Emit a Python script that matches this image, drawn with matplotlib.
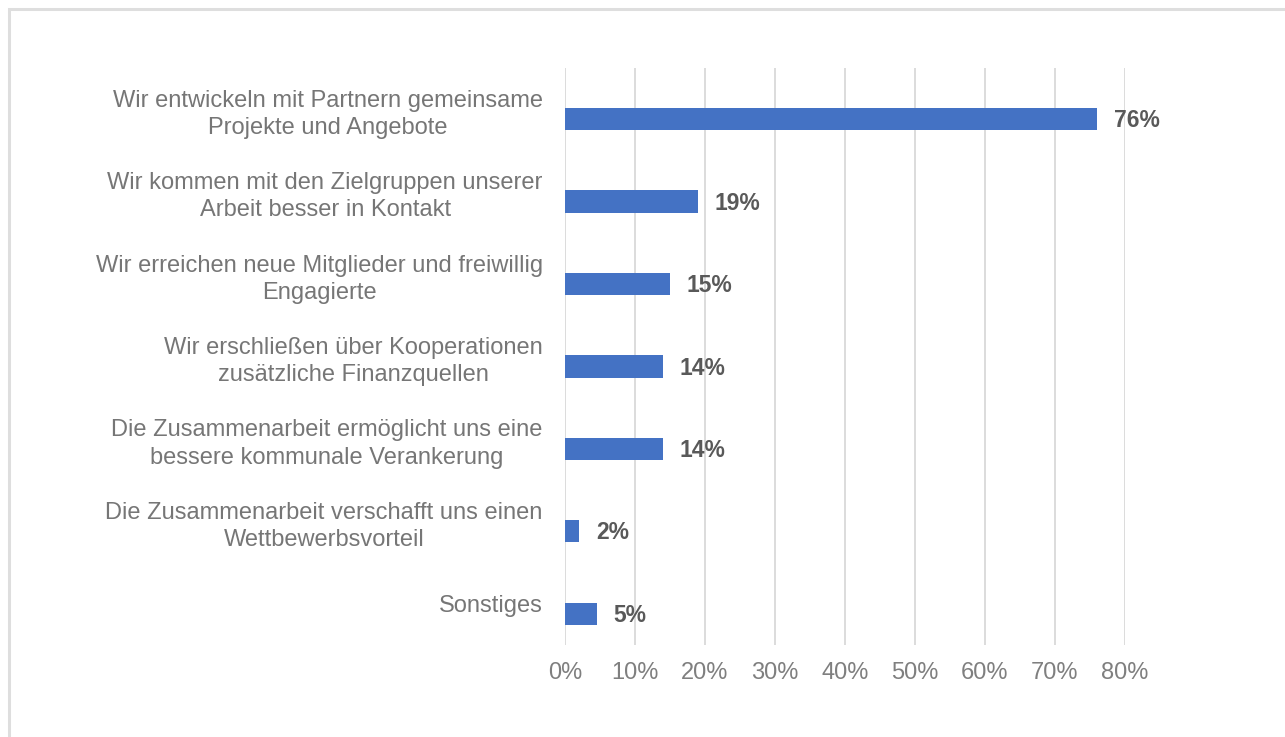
import numpy as np
import matplotlib.pyplot as plt
from matplotlib.patches import Rectangle

plt.rcParams['font.family'] = ['Liberation Sans', 'DejaVu Sans']

categories = [
    'Wir entwickeln mit Partnern gemeinsame\nProjekte und Angebote',
    'Wir kommen mit den Zielgruppen unserer\nArbeit besser in Kontakt',
    'Wir erreichen neue Mitglieder und freiwillig\nEngagierte',
    'Wir erschließen über Kooperationen\nzusätzliche Finanzquellen',
    'Die Zusammenarbeit ermöglicht uns eine\nbessere kommunale Verankerung',
    'Die Zusammenarbeit verschafft uns einen\nWettbewerbsvorteil',
    'Sonstiges',
]
values = [76, 19, 15, 14, 14, 2, 4.5]
value_labels = ['76%', '19%', '15%', '14%', '14%', '2%', '5%']
xticks = [0, 10, 20, 30, 40, 50, 60, 70, 80]

fig = plt.figure(figsize=(12.85, 7.37), dpi=100)
ax = fig.add_axes([565 / 1285, 1 - 645 / 737, 560 / 1285, 577 / 737])

y = np.arange(len(categories))
offset = 0.12
ax.barh(y + offset, values, height=0.27, color='#4472c4', zorder=3)

for yi, v, lab in zip(y, values, value_labels):
    ax.text(v + 2.4, yi + offset + 0.02, lab, va='center', ha='left', fontsize=16.5,
            fontweight='bold', color='#595959')

ax.set_xlim(0, 80)
ax.set_ylim(len(categories) - 0.5, -0.5)
ax.set_xticks(xticks)
ax.set_xticklabels([f'{t}%' for t in xticks], fontsize=17, color='#7f7f7f')
ax.set_yticks(y)
ax.set_yticklabels(categories, fontsize=17, color='#767676',
                   ha='right', multialignment='center', linespacing=1.3)
ax.tick_params(axis='both', length=0)
ax.tick_params(axis='x', pad=12)
ax.tick_params(axis='y', pad=16)
ax.grid(axis='x', color='#d9d9d9', linewidth=1.3, zorder=0)
for s in ax.spines.values():
    s.set_visible(False)

fig.patches.append(Rectangle((9 / 1285, -0.1), 1.2, 1.1 - 9 / 737,
                             transform=fig.transFigure, fill=False,
                             edgecolor='#dedede', linewidth=2.2))

fig.savefig('out.png', dpi=100)
